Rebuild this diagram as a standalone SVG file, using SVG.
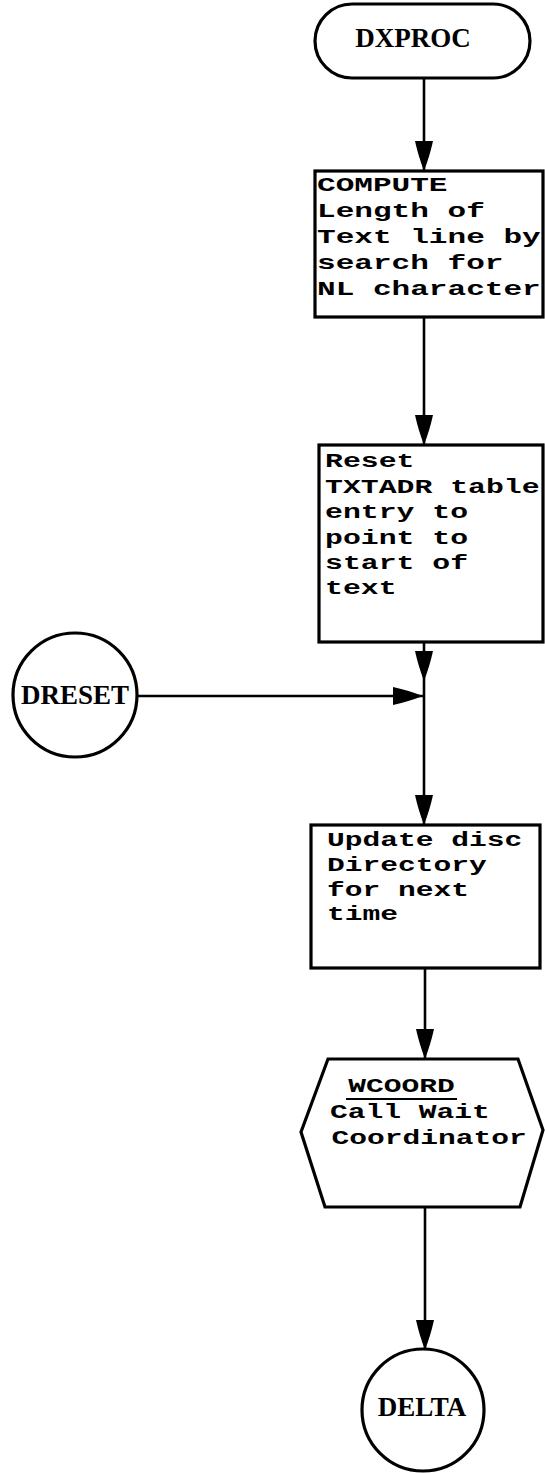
<svg xmlns="http://www.w3.org/2000/svg" width="545" height="1473" viewBox="0 0 545 1473">
<style>
.shape{fill:#fff;stroke:#000;stroke-width:3.2}
.conn{fill:none;stroke:#000;stroke-width:2.6}
.tw{font-family:"Liberation Mono","DejaVu Sans Mono",monospace;font-weight:bold;font-size:21px;fill:#000}
.lbl{font-family:"Liberation Serif","DejaVu Serif",serif;font-weight:bold;font-size:27px;fill:#000}
</style>
<defs>
<marker id="arr" markerUnits="userSpaceOnUse" markerWidth="32" markerHeight="20" refX="30" refY="10" orient="auto" viewBox="0 0 32 20">
<path d="M0,1 Q14,4 30,10 Q14,16 0,19 Z" fill="#000"/>
</marker>
</defs>
<rect width="545" height="1473" fill="#fff"/>
<g id="connectors">
<path class="conn" d="M424,78 V171" marker-end="url(#arr)"/>
<path class="conn" d="M424,317 V445" marker-end="url(#arr)"/>
<path class="conn" d="M424,642 V681" marker-end="url(#arr)"/>
<path class="conn" d="M424,681 V825" marker-end="url(#arr)"/>
<path class="conn" d="M137,696 H423" marker-end="url(#arr)"/>
<path class="conn" d="M425,968 V1059" marker-end="url(#arr)"/>
<path class="conn" d="M425,1207 V1350" marker-end="url(#arr)"/>
</g>
<g id="dxproc">
<rect class="shape" x="315" y="4" width="215" height="74" rx="37" ry="37"/>
<text class="lbl" x="413" y="47" text-anchor="middle">DXPROC</text>
</g>
<g id="compute">
<rect class="shape" x="315" y="171" width="228" height="146"/>
<g transform="translate(317,0) scale(1.48,1)">
<text class="tw" x="0" y="191">COMPUTE</text>
<text class="tw" x="0" y="217">Length of</text>
<text class="tw" x="0" y="243">Text line by</text>
<text class="tw" x="0" y="269">search for</text>
<text class="tw" x="0" y="295">NL character</text>
</g>
</g>
<g id="reset">
<rect class="shape" x="319" y="445" width="224" height="197"/>
<g transform="translate(325,0) scale(1.42,1)">
<text class="tw" x="0" y="467">Reset</text>
<text class="tw" x="0" y="493">TXTADR table</text>
<text class="tw" x="0" y="518">entry to</text>
<text class="tw" x="0" y="544">point to</text>
<text class="tw" x="0" y="569">start of</text>
<text class="tw" x="0" y="594">text</text>
</g>
</g>
<g id="dreset">
<circle class="shape" cx="75" cy="695" r="62"/>
<text class="lbl" x="75" y="704" text-anchor="middle">DRESET</text>
</g>
<g id="update">
<rect class="shape" x="311" y="825" width="229" height="143"/>
<g transform="translate(327,0) scale(1.41,1)">
<text class="tw" x="0" y="846">Update disc</text>
<text class="tw" x="0" y="871">Directory</text>
<text class="tw" x="0" y="896">for next</text>
<text class="tw" x="0" y="920">time</text>
</g>
</g>
<g id="wcoord">
<polygon class="shape" points="328,1059 518,1059 543,1130 520,1207 325,1207 301,1132"/>
<g transform="translate(330,0) scale(1.41,1)">
<text class="tw" x="13" y="1092">WCOORD</text>
<text class="tw" x="0" y="1118">Call Wait</text>
<text class="tw" x="1" y="1144">Coordinator</text>
</g>
<line x1="346" y1="1099" x2="457" y2="1099" stroke="#000" stroke-width="2.2"/>
</g>
<g id="delta">
<circle class="shape" cx="423" cy="1410" r="61"/>
<text class="lbl" x="422" y="1416" text-anchor="middle">DELTA</text>
</g>
</svg>
